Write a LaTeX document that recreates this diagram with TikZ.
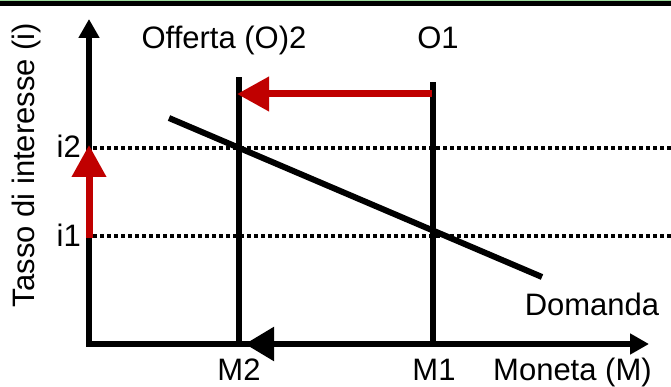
\documentclass[tikz,border=0pt]{standalone}
\usepackage{fontspec}
\setmainfont{Liberation Sans}
\usetikzlibrary{arrows.meta,positioning,calc}
\definecolor{DarkRed}{HTML}{C00000}
\definecolor{PaleGreen}{HTML}{9BDB9B}

\begin{document}
\begin{tikzpicture}[x=1pt,y=-1pt,
    every node/.style={font=\fontsize{31}{36}\selectfont,inner sep=0pt},
    axis/.style={line width=5.5pt,-{Triangle[length=19pt,width=20pt]}},
    curve/.style={line width=6pt},
    guide/.style={line width=3.5pt,dash pattern=on 3.5pt off 3.5pt},
    movearrow/.style={line width=7pt,DarkRed,-{Triangle[length=32pt,width=33pt]}},
    bigtip/.style={line width=5.5pt,-{Triangle[length=29pt,width=33pt]}}]
  \useasboundingbox (0,0) rectangle (671,387);
  % frame line at the top
  \fill[PaleGreen] (0,0) rectangle (671,1.2);
  \fill[black] (0,1.2) rectangle (671,6);
  % points of the plot
  \coordinate (orig) at (89,344);
  \coordinate (ytop) at (89,19);
  \coordinate (xend) at (649,344);
  \coordinate (o2top) at (239,77);
  \coordinate (o2bot) at (239,344);
  \coordinate (o1top) at (433,82);
  \coordinate (o1bot) at (433,344);
  \coordinate (dstart) at (169,118);
  \coordinate (dend) at (542,277);
  \coordinate (i2a) at (93,148);
  \coordinate (i2b) at (671,148);
  \coordinate (i1a) at (93,236);
  \coordinate (i1b) at (671,236);
  % axes
  \draw[axis,line cap=rect] (orig) -- (ytop);
  \draw[axis] (orig) -- (xend);
  % guides for the rates
  \draw[guide] (i2a) -- (i2b);
  \draw[guide] (i1a) -- (i1b);
  % supply and demand
  \draw[curve] (o2bot) -- (o2top);
  \draw[curve] (o1bot) -- (o1top);
  \draw[curve] (dstart) -- (dend);
  % shifts
  \coordinate (o1mid) at (432,94);
  \coordinate (o2mid) at (237,94);
  \coordinate (rlow) at (89,238);
  \coordinate (rhigh) at (89,145);
  \draw[movearrow] (o1mid) -- (o2mid);
  \draw[movearrow] (rlow) -- (rhigh);
  \coordinate (mtip) at (245,344);
  \draw[bigtip] (o1bot) -- (mtip);
  % labels
  \node[rotate=90,anchor=base] (ylab) at (34,165) {Tasso di interesse (i)};
  \node[anchor=base] (o2lab) at (224,49) {Offerta (O)2};
  \node[anchor=base] (o1lab) at (438,49) {O1};
  \node[anchor=base east] (i2lab) at (81,158) {i2};
  \node[anchor=base east] (i1lab) at (81,246) {i1};
  \node[anchor=base] (dlab) at (592,315) {Domanda};
  \node[anchor=base] (m2lab) at (239,380) {M2};
  \node[anchor=base] (m1lab) at (434,380) {M1};
  \node[anchor=base west] (xlab) at (493,380) {Moneta (M)};
\end{tikzpicture}
\end{document}
